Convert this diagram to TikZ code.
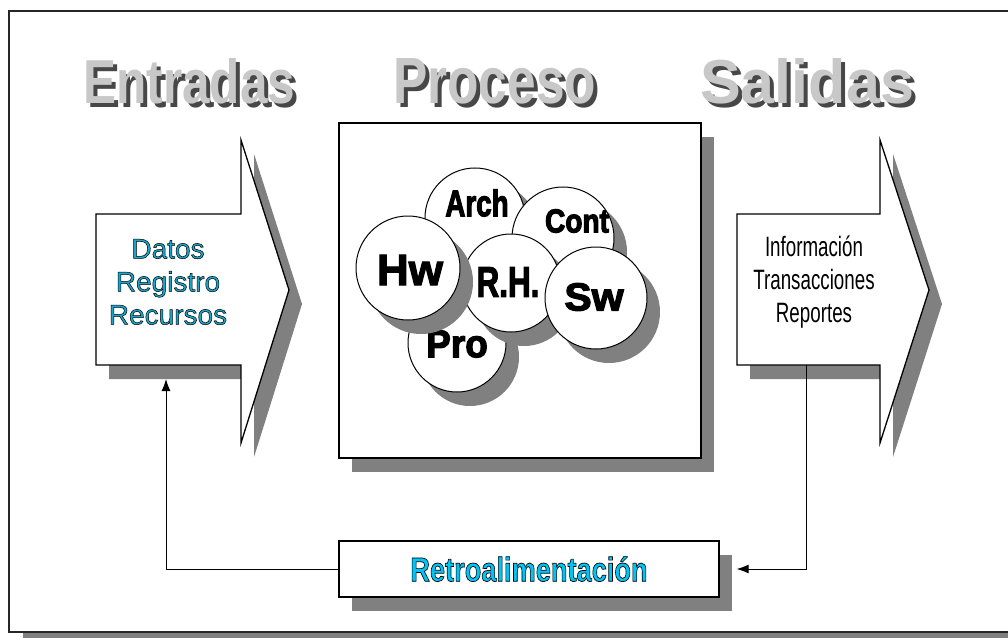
\documentclass[tikz,border=0pt]{standalone}
\usepackage{fontspec}
\setmainfont{Liberation Sans}
\usepackage{graphicx}
\usetikzlibrary{arrows.meta,shadows}
\definecolor{shadowgray}{HTML}{808080}
\definecolor{framecol}{HTML}{262626}
\definecolor{titlegray}{HTML}{C8C8C8}
\definecolor{titleshadow}{HTML}{474747}
\definecolor{datacol}{HTML}{1AA6CC}
\definecolor{retrocyan}{HTML}{00C4F4}
\newcommand{\ttl}[2]{\resizebox{#1}{45pt}{\fontsize{40}{40}\selectfont\bfseries #2}}
\newcommand{\stroked}[2]{\special{pdf:literal direct 2 Tr #1 w 0 G}#2\special{pdf:literal direct 0 Tr}}
\newcommand{\clab}[3]{\scalebox{#2}[1]{\fontsize{#1}{#1}\selectfont\bfseries\stroked{1.2}{#3}}}
\begin{document}
\begin{tikzpicture}[x=1pt,y=-1pt,
  outl/.style={draw=black,line width=1.3pt,fill=white,line join=miter},
  shd/.style={drop shadow={shadow xshift=13pt,shadow yshift=-14pt,fill=shadowgray,opacity=1}},
  ball/.style={circle,draw=black,line width=1pt,fill=white,inner sep=0pt,shd},
  lab/.style={inner sep=0pt,text=black},
  conn/.style={draw=black,line width=1pt},
  tip/.style={-{Latex[length=12pt,width=9pt]}},
  ttlS/.style={anchor=base west,inner sep=0pt,text=titleshadow},
  ttlF/.style={anchor=base west,inner sep=0pt,text=titlegray}]
\useasboundingbox (0,0) rectangle (1008,639);
\fill[white] (0,0) rectangle (1008,639);
% outer frame
\fill[shadowgray] (23,633) rectangle (1012,638);
\draw[framecol,line width=2pt] (1012,632) -- (9,632) -- (9,11) -- (1012,11);
% titles
\node[ttlS] (entS) at (87,108) {\ttl{212pt}{Entradas}};
\node[ttlF] (ent) at (83,104) {\ttl{212pt}{Entradas}};
\node[ttlS] (proS) at (397,108) {\ttl{203pt}{Proceso}};
\node[ttlF] (pro) at (393,104) {\ttl{203pt}{Proceso}};
\node[ttlS] (salS) at (704,108) {\ttl{214pt}{Salidas}};
\node[ttlF] (sal) at (700,104) {\ttl{214pt}{Salidas}};
% left arrow
\begin{scope}[shift={(13,14)}]
\fill[shadowgray] (96,214) -- (241,214) -- (241,140) -- (289,290) -- (241,443) -- (241,365) -- (96,365) -- cycle;
\end{scope}
\draw[outl] (96,214) -- (241,214) -- (241,140) -- (289,290) -- (241,443) -- (241,365) -- (96,365) -- cycle;
\node[align=center,font=\fontsize{28}{33}\selectfont,text=datacol] (intext) at (168,282) {\stroked{0.5}{Datos}\\\stroked{0.5}{Registro}\\\stroked{0.5}{Recursos}};
\coordinate (inbot) at (166,379);
% process box
\node[outl,shd,minimum width=362pt,minimum height=335pt,inner sep=0pt] (proc) at (520,290.5) {};
\node[ball,minimum size=98pt] (cPro) at (457,343) {};
\node[lab] (tPro) at (457,344) {\clab{39}{0.95}{Pro}};
\node[ball,minimum size=100pt] (cArch) at (475,218) {};
\node[lab] (tArch) at (477,203) {\clab{37}{0.75}{Arch}};
\node[ball,minimum size=102pt] (cCont) at (563,238) {};
\node[lab] (tCont) at (577,221) {\clab{33}{0.85}{Cont}};
\node[ball,minimum size=98pt] (cRH) at (511,283) {};
\node[lab] (tRH) at (508,282) {\clab{43}{0.73}{R.H.}};
\node[ball,minimum size=102pt] (cSw) at (596,298) {};
\node[lab] (tSw) at (594,297) {\clab{39}{1.05}{Sw}};
\node[ball,minimum size=104pt] (cHw) at (408,268) {};
\node[lab] (tHw) at (410,270) {\clab{44}{1.0}{Hw}};
% right arrow
\begin{scope}[shift={(13,14)}]
\fill[shadowgray] (737,214) -- (880,214) -- (880,140) -- (929,290) -- (880,443) -- (880,365) -- (737,365) -- cycle;
\end{scope}
\draw[outl] (737,214) -- (880,214) -- (880,140) -- (929,290) -- (880,443) -- (880,365) -- (737,365) -- cycle;
\node[text=black] (outtext) at (814,283) {\scalebox{0.67}[1]{\fontsize{28}{33}\selectfont\begin{tabular}{@{}c@{}}Información\\Transacciones\\Reportes\end{tabular}}};
\coordinate (outbot) at (806,365);
% feedback
\node[outl,shd,minimum width=380pt,minimum height=56pt,inner sep=0pt,text=retrocyan] (retro) at (529,569)
  {\scalebox{0.8}[1]{\fontsize{34}{34}\selectfont\bfseries\stroked{0.7}{Retroalimentación}}};
\draw[conn,tip,shorten >=17pt] (outbot) |- (retro.east);
\draw[conn,tip] (retro.west) -| (inbot);
\end{tikzpicture}
\end{document}
